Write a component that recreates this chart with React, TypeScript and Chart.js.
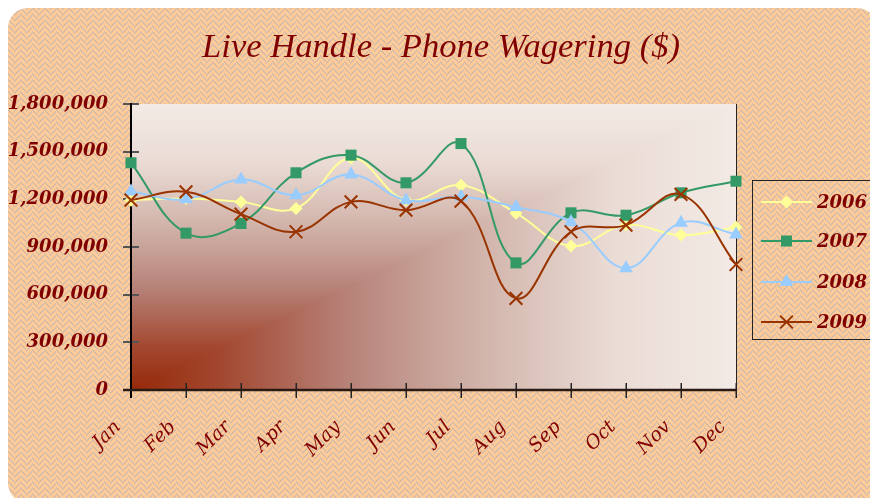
import React, { useEffect, useRef } from 'react';
import { Chart, registerables } from 'chart.js';
Chart.register(...registerables);

const months = ['Jan', 'Feb', 'Mar', 'Apr', 'May', 'Jun', 'Jul', 'Aug', 'Sep', 'Oct', 'Nov', 'Dec'];
const series2006 = [1195000, 1205000, 1184000, 1143000, 1460000, 1195000, 1289000, 1113000, 906000, 1038000, 975000, 1025000];
const series2007 = [1430000, 987000, 1048000, 1367000, 1478000, 1304000, 1551000, 800000, 1115000, 1100000, 1241000, 1314000];
const series2008 = [1250000, 1200000, 1325000, 1226000, 1357000, 1195000, 1216000, 1151000, 1058000, 767000, 1052000, 979000];
const series2009 = [1195000, 1247000, 1107000, 996000, 1184000, 1132000, 1189000, 577000, 996000, 1038000, 1231000, 790000];
const seriesLabels = ['2006', '2007', '2008', '2009'];
const yMin = 0;
const yMax = 1800000;
const yStep = 300000;
const titleText = 'Live Handle - Phone Wagering ($)';

const W = 862;
const H = 490;
const DARK_RED = '#800000';

const styles = [
  { color: '#FFFF99', point: 'rectRot', radius: 6.5 },
  { color: '#339966', point: 'rect', radius: 7.8 },
  { color: '#99CCFF', point: 'triangle', radius: 8 },
  { color: '#993300', point: 'crossRot', radius: 9 },
];

function makePattern(ctx: CanvasRenderingContext2D) {
  const c = document.createElement('canvas');
  c.width = 12;
  c.height = 12;
  const p = c.getContext('2d')!;
  p.fillStyle = '#FFCC99';
  p.fillRect(0, 0, 12, 12);
  p.fillStyle = '#D4BCA9';
  for (let y = 0; y < 12; y++) {
    for (let x = 0; x < 12; x++) {
      const v = x < 6 ? (((x - y) % 6) + 6) % 6 : (x + y) % 6;
      if (v === 0 || v === 1) p.fillRect(x, y, 1, 1);
    }
  }
  return ctx.createPattern(c, 'repeat')!;
}

const ramp: [number, number, number, number][] = [
  [0, 150, 42, 10],
  [0.15, 163, 72, 48],
  [0.35, 182, 128, 118],
  [0.5, 200, 163, 153],
  [0.62, 214, 188, 179],
  [0.8, 234, 220, 213],
  [1, 243, 234, 229],
];
function rampColor(t: number) {
  for (let k = 1; k < ramp.length; k++) {
    if (t <= ramp[k][0]) {
      const a = ramp[k - 1], b = ramp[k];
      const f = (t - a[0]) / (b[0] - a[0]);
      return [a[1] + (b[1] - a[1]) * f, a[2] + (b[2] - a[2]) * f, a[3] + (b[3] - a[3]) * f];
    }
  }
  const l = ramp[ramp.length - 1];
  return [l[1], l[2], l[3]];
}

function drawMarker(ctx: CanvasRenderingContext2D, style: string, x: number, y: number, r: number, color: string) {
  ctx.save();
  ctx.fillStyle = color;
  ctx.strokeStyle = color;
  ctx.beginPath();
  if (style === 'rectRot') {
    ctx.moveTo(x, y - r); ctx.lineTo(x + r, y); ctx.lineTo(x, y + r); ctx.lineTo(x - r, y); ctx.closePath(); ctx.fill();
  } else if (style === 'rect') {
    const s = r * Math.SQRT1_2;
    ctx.rect(x - s, y - s, 2 * s, 2 * s); ctx.fill();
  } else if (style === 'triangle') {
    ctx.moveTo(x - r * Math.sqrt(3) / 2, y + r / 2); ctx.lineTo(x + r * Math.sqrt(3) / 2, y + r / 2); ctx.lineTo(x, y - r); ctx.closePath(); ctx.fill();
  } else {
    const s = r * Math.SQRT1_2;
    ctx.lineWidth = 2;
    ctx.moveTo(x - s, y - s); ctx.lineTo(x + s, y + s); ctx.moveTo(x + s, y - s); ctx.lineTo(x - s, y + s); ctx.stroke();
  }
  ctx.restore();
}

export default function App() {
  const ref = useRef<HTMLCanvasElement>(null);
  useEffect(() => {
    document.documentElement.style.overflow = 'hidden';
    const canvas = ref.current!;
    const ctx0 = canvas.getContext('2d')!;
    const pattern = makePattern(ctx0);
    let gradImg: ImageData | null = null;

    const deco = {
      id: 'deco',
      beforeDraw(chart: any) {
        const ctx = chart.ctx as CanvasRenderingContext2D;
        ctx.save();
        ctx.beginPath();
        (ctx as any).roundRect(0, 0, W + 7, H + 5, 20);
        ctx.fillStyle = pattern;
        ctx.fill();
        ctx.restore();
      },
      beforeDatasetsDraw(chart: any) {
        const ctx = chart.ctx as CanvasRenderingContext2D;
        const { left, top, right, bottom } = chart.chartArea;
        const x0 = Math.round(left), y0 = Math.round(top);
        const w = Math.round(right) - x0, h = Math.round(bottom) - y0;
        if (!gradImg) {
          gradImg = ctx.createImageData(w, h);
          const d = gradImg.data;
          for (let j = 0; j < h; j++) {
            for (let i = 0; i < w; i++) {
              const t = Math.max(i / (w - 1), (h - 1 - j) / (h - 1));
              const c = rampColor(t);
              const o = (j * w + i) * 4;
              d[o] = c[0]; d[o + 1] = c[1]; d[o + 2] = c[2]; d[o + 3] = 255;
            }
          }
        }
        ctx.putImageData(gradImg, x0, y0);
        ctx.save();
        ctx.strokeStyle = '#222';
        ctx.lineWidth = 1;
        ctx.beginPath();
        ctx.moveTo(right + 0.5, top); ctx.lineTo(right + 0.5, bottom);
        ctx.stroke();
        const ys = chart.scales.y;
        ctx.strokeStyle = '#555';
        ctx.lineWidth = 2;
        ys.ticks.forEach((tk: any) => {
          const py = Math.round(ys.getPixelForValue(tk.value));
          ctx.beginPath();
          ctx.moveTo(left - 8, py); ctx.lineTo(left + 8, py);
          ctx.stroke();
        });
        const xs = chart.scales.x;
        ctx.strokeStyle = '#222';
        ctx.lineWidth = 1.5;
        for (let i = 0; i < months.length; i++) {
          const px = Math.round(xs.getPixelForTick(i)) + 0.25;
          ctx.beginPath();
          ctx.moveTo(px, bottom - 7); ctx.lineTo(px, bottom + 8);
          ctx.stroke();
        }
        ctx.strokeStyle = '#000';
        ctx.lineWidth = 2;
        ctx.beginPath();
        ctx.moveTo(left, top - 1); ctx.lineTo(left, bottom + 8);
        ctx.stroke();
        ctx.strokeStyle = '#2a1a14';
        ctx.lineWidth = 2.5;
        ctx.beginPath();
        ctx.moveTo(left - 8, bottom); ctx.lineTo(right, bottom);
        ctx.stroke();
        ctx.restore();
      },
      afterDraw(chart: any) {
        const ctx = chart.ctx as CanvasRenderingContext2D;
        ctx.save();
        let fs = 30;
        ctx.font = `italic ${fs}px "Liberation Serif"`;
        const mw = ctx.measureText(titleText).width;
        fs = fs * 478 / mw;
        ctx.font = `italic ${fs}px "Liberation Serif"`;
        ctx.fillStyle = DARK_RED;
        ctx.textAlign = 'center';
        ctx.textBaseline = 'alphabetic';
        ctx.fillText(titleText, 433, 49);
        ctx.strokeStyle = '#222';
        ctx.lineWidth = 1;
        ctx.strokeRect(744.5, 172.5, 140, 159);
        const rows = [194, 233, 274, 314];
        ctx.font = 'bold italic 18px "DejaVu Serif"';
        ctx.textAlign = 'left';
        ctx.textBaseline = 'middle';
        seriesLabels.forEach((lab, k) => {
          const st = styles[k];
          const y = rows[k];
          ctx.strokeStyle = st.color;
          ctx.lineWidth = 2;
          ctx.beginPath();
          ctx.moveTo(753, y); ctx.lineTo(804, y);
          ctx.stroke();
          drawMarker(ctx, st.point, 778.5, y, st.radius, st.color);
          ctx.fillStyle = DARK_RED;
          ctx.fillText(lab, 809, y + 1);
        });
        ctx.restore();
      },
    };

    const all = [series2006, series2007, series2008, series2009];
    const chart = new Chart(canvas, {
      type: 'line',
      data: {
        labels: months,
        datasets: all.map((d, k) => ({
          label: seriesLabels[k],
          data: d,
          borderColor: styles[k].color,
          backgroundColor: styles[k].color,
          pointBackgroundColor: styles[k].color,
          pointBorderColor: styles[k].color,
          pointBorderWidth: styles[k].point === 'crossRot' ? 2 : 0,
          pointStyle: styles[k].point as any,
          pointRadius: styles[k].radius,
          borderWidth: 2,
          tension: 0.4,
          fill: false,
          clip: false as any,
          order: 4 - k,
        })),
      },
      options: {
        responsive: false,
        animation: false,
        devicePixelRatio: 1,
        layout: { padding: { left: 0, top: 96, right: 134, bottom: 0 } },
        plugins: { legend: { display: false }, title: { display: false }, tooltip: { enabled: false } },
        events: [],
        scales: {
          x: {
            offset: false,
            grid: { display: false, drawTicks: false },
            border: { display: false },
            ticks: {
              autoSkip: false,
              maxRotation: 45,
              minRotation: 45,
              padding: 26,
              labelOffset: -13,
              color: DARK_RED,
              font: { family: 'DejaVu Serif', style: 'italic', size: 19 },
            },
            afterFit(s: any) { s.height = 108; },
          },
          y: {
            min: yMin,
            max: yMax,
            grid: { display: false, drawTicks: false },
            border: { display: false },
            ticks: {
              stepSize: yStep,
              padding: 23,
              color: DARK_RED,
              font: { family: 'DejaVu Serif', style: 'italic', weight: 'bold', size: 18 },
              callback: (v: any) => Number(v).toLocaleString('en-US'),
            },
            afterFit(s: any) { s.width = 123; },
          },
        },
      },
      plugins: [deco],
    });
    return () => chart.destroy();
  }, []);
  return (
    <div style={{ position: 'fixed', left: 8, top: 8, width: W, height: H }}>
      <canvas ref={ref} width={W} height={H} style={{ display: 'block', width: W, height: H }} />
    </div>
  );
}
